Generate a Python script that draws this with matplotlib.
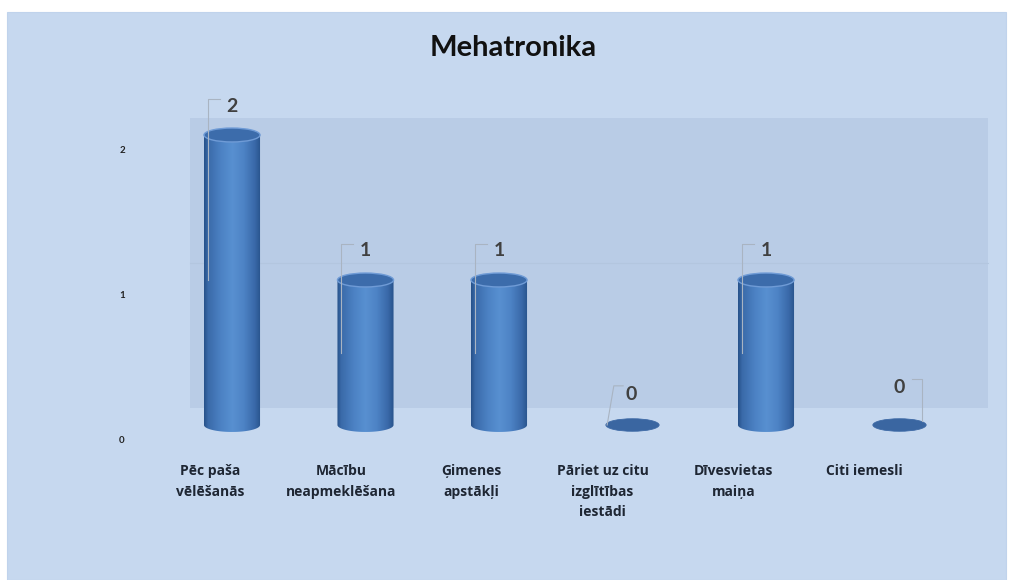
import numpy as np
import matplotlib
matplotlib.use("Agg")
import matplotlib.pyplot as plt
from matplotlib.patches import Rectangle, Ellipse, Polygon
from matplotlib.colors import LinearSegmentedColormap

# ---- data ----
title = "Mehatronika"
categories = ["Pēc paša\nvēlēšanās", "Mācību\nneapmeklēšana", "Ģimenes\napstākļi",
              "Pāriet uz citu\nizglītības\niestādi", "Dīvesvietas\nmaiņa", "Citi iemesli"]
values = [2, 1, 1, 0, 1, 0]
yticks = [0, 1, 2]

FONT = ['Lato', 'DejaVu Sans']
LABEL_FONT = ['Open Sans', 'DejaVu Sans']
plt.rcParams['font.family'] = FONT

W, H = 1013, 580
fig = plt.figure(figsize=(W / 100, H / 100), dpi=100, facecolor='white')

# blue panel
fig.patches.append(Rectangle((7 / W, 0), (1006 - 7) / W, (580 - 12) / H,
                             transform=fig.transFigure, facecolor='#c6d8ef',
                             edgecolor='#c0d3ec', lw=0.8, zorder=-10))

# axes placement (pixel mapping)
px_per_x, x0_px = 133.5, 232.0
px_per_y, y0_px = 145.0, 425.0
xlim = (-1.0, 5.8)
ylim = (-0.6, 2.4)
left_px = x0_px + xlim[0] * px_per_x
right_px = x0_px + xlim[1] * px_per_x
bot_px = y0_px - ylim[0] * px_per_y
top_px = y0_px - ylim[1] * px_per_y
ax = fig.add_axes([left_px / W, (H - bot_px) / H, (right_px - left_px) / W,
                   (bot_px - top_px) / H])
ax.set_facecolor('none')
ax.axis('off')

# back wall
wall_x0, wall_x1 = -0.315, 5.66
wall_shift = 0.12
ax.add_patch(Rectangle((wall_x0, wall_shift), wall_x1 - wall_x0, max(yticks),
                       facecolor='#b9cce6', edgecolor='none', zorder=1))
for t in yticks[1:-1]:
    ax.plot([wall_x0, wall_x1], [t + wall_shift] * 2, color='#b3c6df', lw=0.8, zorder=1.5)

# cylinders
cmap = LinearSegmentedColormap.from_list('cyl', [
    (0.0, '#27528a'), (0.07, '#3a6aa9'), (0.3, '#4c82c4'), (0.5, '#5890d1'),
    (0.7, '#4d83c5'), (0.9, '#3968a8'), (1.0, '#28538b')])
grad = np.linspace(0, 1, 200)[None, :]
bw = 0.42      # bar width (data units)
eh = 0.048     # ellipse semi-height

for i, v in enumerate(values):
    if v > 0:
        t = np.linspace(np.pi, 2 * np.pi, 60)
        arc = np.column_stack([i + bw / 2 * np.cos(t), eh * np.sin(t)])
        pts = np.vstack([[i - bw / 2, v], arc, [i + bw / 2, v]])
        poly = Polygon(pts, closed=True, facecolor='none', edgecolor='none',
                       transform=ax.transData)
        ax.add_patch(poly)
        im = ax.imshow(grad, cmap=cmap, aspect='auto', interpolation='bilinear',
                       extent=[i - bw / 2, i + bw / 2, -eh, v], zorder=3)
        im.set_clip_path(poly)
        ax.add_patch(Ellipse((i, v), bw, 2 * eh, facecolor='#3c6cab',
                             edgecolor='#6f9bd6', lw=1.0, zorder=4))
        # data label and leader
        ax.text(i, v + 0.2, str(v), ha='center', va='center', fontsize=14,
                fontweight='bold', color='#404040', zorder=6)
        lx = i - bw / 2 + 0.03
        ly = v + 0.25
        ax.plot([lx, lx, i - 0.09], [v / 2, ly, ly], color='#a9b4c2', lw=0.8, zorder=5)
    else:
        ax.add_patch(Ellipse((i, 0), bw * 0.95, 2 * eh * 0.9, facecolor='#3a66a1',
                             edgecolor='#3e6aa6', lw=0.6, zorder=3))

zero_pos = [i for i, v in enumerate(values) if v == 0]
# zero labels (first leader on the left, second on the right)
for k, i in enumerate(zero_pos):
    ly = 0.21 + 0.05 * k
    ax.text(i - 0.01 + 0.01 * k, ly, str(values[i]), ha='center', va='center',
            fontsize=14, fontweight='bold', color='#404040', zorder=6)
    if k == 0:
        ax.plot([i - 0.07, i - 0.14, i - 0.19], [ly + 0.06, ly + 0.06, 0.0],
                color='#a9b4c2', lw=0.8, zorder=5)
    else:
        ax.plot([i + 0.09, i + 0.17, i + 0.17], [ly + 0.06, ly + 0.06, 0.03],
                color='#a9b4c2', lw=0.8, zorder=5)

# y tick labels
for t in yticks:
    ax.text(-0.824, t - 0.105, str(t), ha='center', va='center', fontsize=7,
            fontweight='bold', color='#222222')

# category labels (shifted left by perspective)
for i, c in enumerate(categories):
    ax.text(i - (0.165 + 0.02 * i), -0.27, c, ha='center', va='top', fontsize=10,
            fontweight='bold', color='#1e2633', linespacing=1.6, family=LABEL_FONT)

ax.set_xlim(*xlim)
ax.set_ylim(*ylim)

fig.text(513 / W, 1 - 48 / H, title, ha='center', va='center', fontsize=21,
         fontweight='bold', color='#111111')

fig.savefig('out.png', dpi=100, facecolor='white')
